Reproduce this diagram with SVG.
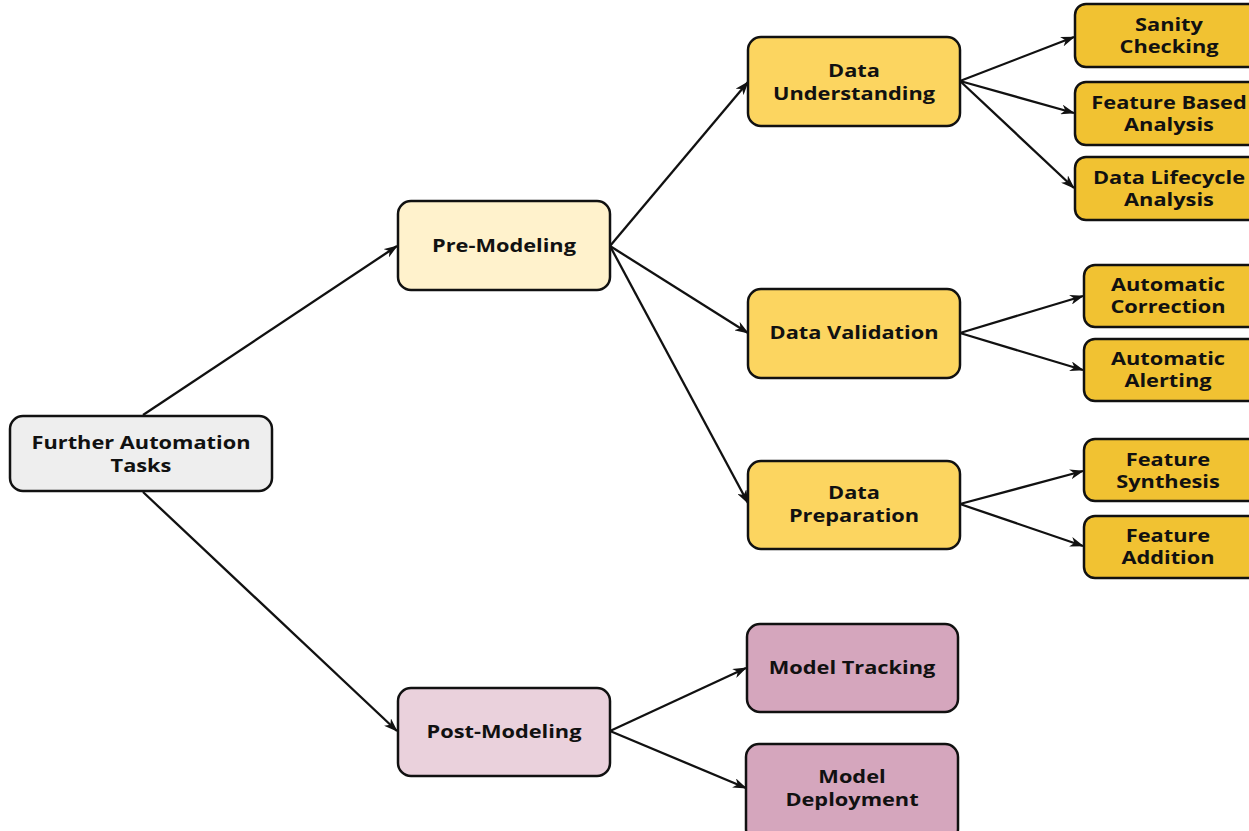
<svg xmlns="http://www.w3.org/2000/svg" width="1249" height="831" viewBox="0 0 1249 831">
<defs>
<marker id="ah" markerWidth="14" markerHeight="10" refX="13" refY="5" orient="auto" markerUnits="userSpaceOnUse">
<path d="M0,0 L14,5 L0,10 L4,5 Z" fill="#111"/>
</marker>
<style>
.n rect{stroke:#111;stroke-width:2.5}
.n text{font-family:"Open Sans","Noto Sans",sans-serif;font-weight:700;font-size:18px;fill:#111;text-anchor:middle}
.grey rect{fill:#eeeeee}
.ly rect{fill:#fff2cc}
.my rect{fill:#fcd560}
.dy rect{fill:#f1c232}
.lp rect{fill:#ead1dc}
.dp rect{fill:#d5a6bd}
#connectors line{stroke:#111;stroke-width:2.3;marker-end:url(#ah)}
</style>
</defs>
<rect width="1249" height="831" fill="#fff"/>
<g id="connectors">
<line x1="143" y1="415" x2="397" y2="246"/>
<line x1="143" y1="492" x2="397" y2="731"/>
<line x1="610" y1="246" x2="748" y2="82"/>
<line x1="610" y1="246" x2="748" y2="333"/>
<line x1="610" y1="246" x2="748" y2="503"/>
<line x1="960" y1="81" x2="1074" y2="37"/>
<line x1="960" y1="81" x2="1074" y2="113"/>
<line x1="960" y1="81" x2="1074" y2="188"/>
<line x1="960" y1="333" x2="1083" y2="296"/>
<line x1="960" y1="333" x2="1083" y2="370"/>
<line x1="960" y1="504" x2="1083" y2="471"/>
<line x1="960" y1="504" x2="1083" y2="546"/>
<line x1="610" y1="731" x2="746" y2="668"/>
<line x1="610" y1="731" x2="746" y2="788"/>
</g>
<g id="n-further" class="n grey"><rect x="10" y="416" width="262" height="75" rx="13"/><g transform="translate(141 0) scale(1.21 1)"><text x="0" y="449">Further Automation</text><text x="0" y="472">Tasks</text></g></g>
<g id="n-pre" class="n ly"><rect x="398" y="201" width="212" height="89" rx="13"/><g transform="translate(504 0) scale(1.21 1)"><text x="0" y="252">Pre-Modeling</text></g></g>
<g id="n-post" class="n lp"><rect x="398" y="688" width="212" height="88" rx="13"/><g transform="translate(504 0) scale(1.21 1)"><text x="0" y="738">Post-Modeling</text></g></g>
<g id="n-du" class="n my"><rect x="748" y="37" width="212" height="89" rx="13"/><g transform="translate(854 0) scale(1.21 1)"><text x="0" y="77">Data</text><text x="0" y="100">Understanding</text></g></g>
<g id="n-dv" class="n my"><rect x="748" y="289" width="212" height="89" rx="13"/><g transform="translate(854 0) scale(1.21 1)"><text x="0" y="339">Data Validation</text></g></g>
<g id="n-dp" class="n my"><rect x="748" y="461" width="212" height="88" rx="13"/><g transform="translate(854 0) scale(1.21 1)"><text x="0" y="499">Data</text><text x="0" y="522">Preparation</text></g></g>
<g id="n-mt" class="n dp"><rect x="747" y="624" width="211" height="88" rx="13"/><g transform="translate(852 0) scale(1.21 1)"><text x="0" y="674">Model Tracking</text></g></g>
<g id="n-md" class="n dp"><rect x="746" y="744" width="212" height="98" rx="13"/><g transform="translate(852 0) scale(1.21 1)"><text x="0" y="783">Model</text><text x="0" y="806">Deployment</text></g></g>
<g id="n-sc" class="n dy"><rect x="1075" y="4" width="190" height="63" rx="11"/><g transform="translate(1169 0) scale(1.21 1)"><text x="0" y="31">Sanity</text><text x="0" y="53">Checking</text></g></g>
<g id="n-fba" class="n dy"><rect x="1075" y="82" width="190" height="63" rx="11"/><g transform="translate(1169 0) scale(1.21 1)"><text x="0" y="109">Feature Based</text><text x="0" y="131">Analysis</text></g></g>
<g id="n-dla" class="n dy"><rect x="1075" y="157" width="190" height="63" rx="11"/><g transform="translate(1169 0) scale(1.21 1)"><text x="0" y="184">Data Lifecycle</text><text x="0" y="206">Analysis</text></g></g>
<g id="n-ac" class="n dy"><rect x="1084" y="265" width="180" height="62" rx="11"/><g transform="translate(1168 0) scale(1.21 1)"><text x="0" y="291">Automatic</text><text x="0" y="313">Correction</text></g></g>
<g id="n-aa" class="n dy"><rect x="1084" y="339" width="180" height="62" rx="11"/><g transform="translate(1168 0) scale(1.21 1)"><text x="0" y="365">Automatic</text><text x="0" y="387">Alerting</text></g></g>
<g id="n-fs" class="n dy"><rect x="1084" y="439" width="180" height="62" rx="11"/><g transform="translate(1168 0) scale(1.21 1)"><text x="0" y="466">Feature</text><text x="0" y="488">Synthesis</text></g></g>
<g id="n-fa" class="n dy"><rect x="1084" y="516" width="180" height="62" rx="11"/><g transform="translate(1168 0) scale(1.21 1)"><text x="0" y="542">Feature</text><text x="0" y="564">Addition</text></g></g>
</svg>
